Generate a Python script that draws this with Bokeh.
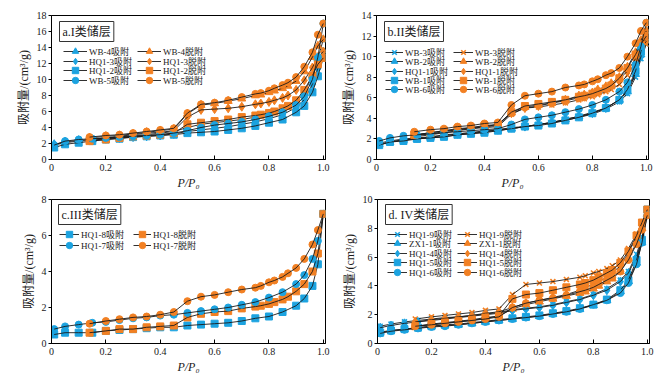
from bokeh.plotting import figure
from bokeh.models import Legend, LegendItem, Label, FixedTicker, Range1d
from bokeh.layouts import column, row
from bokeh.embed import file_html
from bokeh.resources import INLINE

SERIF = "Liberation Serif, Noto Sans CJK SC"
BLUE = "#1ca3e0"
ORANGE = "#f28023"

ADS_X = [0.01, 0.05, 0.10, 0.15, 0.20, 0.25, 0.30, 0.35, 0.40, 0.45, 0.50, 0.55,
         0.60, 0.65, 0.70, 0.75, 0.80, 0.85, 0.90, 0.93, 0.96, 0.98, 1.00]
DES_X = [1.00, 0.98, 0.96, 0.93, 0.90, 0.87, 0.85, 0.82, 0.80, 0.77, 0.75, 0.70,
         0.65, 0.60, 0.55, 0.50, 0.45, 0.40, 0.35, 0.30, 0.25, 0.20, 0.14]

X_TICKS = [0, 0.2, 0.4, 0.6, 0.8, 1.0]
X_TICK_LABELS = ["0", "0.2", "0.4", "0.6", "0.8", "1.0"]

# ---- panel a ----
A_TITLE = "a.I类储层"
A_NAMES = ["WB-4", "HQ1-3", "HQ1-2", "WB-5"]
A_MARKERS = ["triangle", "diamond", "square", "circle"]
A_ADS = [
    [1.9, 2.2, 2.4, 2.5, 2.7, 2.8, 3.0, 3.1, 3.3, 3.5, 4.0, 4.4, 4.6, 4.8, 5.0, 5.3, 5.7, 6.2, 7.2, 8.3, 10.5, 12.6, 15.0],
    [1.8, 2.1, 2.3, 2.4, 2.6, 2.7, 2.8, 2.9, 3.0, 3.2, 3.5, 3.7, 3.9, 4.1, 4.4, 4.7, 5.1, 5.6, 6.5, 7.5, 9.4, 11.4, 13.5],
    [1.5, 1.9, 2.1, 2.3, 2.5, 2.6, 2.8, 2.9, 3.0, 3.1, 3.3, 3.4, 3.5, 3.7, 3.9, 4.2, 4.6, 5.0, 5.9, 6.7, 8.4, 10.4, 12.7],
    [1.8, 2.3, 2.5, 2.6, 2.7, 2.8, 2.9, 3.0, 3.1, 3.3, 3.6, 4.0, 4.3, 4.5, 4.7, 5.0, 5.4, 5.9, 6.8, 7.9, 10.0, 12.8, 17.0],
]
A_DES = [
    [15.0, 14.2, 12.8, 11.0, 9.8, 9.2, 8.9, 8.6, 8.4, 8.1, 8.0, 7.6, 7.3, 7.0, 6.8, 5.7, 3.8, 3.6, 3.4, 3.2, 3.0, 2.9, 2.7],
    [13.5, 12.8, 11.5, 9.9, 8.7, 8.0, 7.7, 7.4, 7.2, 7.0, 6.9, 6.6, 6.4, 6.3, 6.2, 5.3, 3.6, 3.4, 3.3, 3.1, 2.9, 2.7, 2.5],
    [12.7, 11.9, 10.5, 8.7, 7.4, 6.7, 6.4, 6.0, 5.8, 5.6, 5.5, 5.3, 5.0, 4.8, 4.6, 4.4, 3.3, 3.1, 3.0, 2.9, 2.7, 2.5, 2.3],
    [17.0, 15.6, 13.4, 11.6, 10.3, 9.6, 9.3, 8.9, 8.6, 8.3, 8.2, 7.8, 7.4, 7.1, 6.9, 5.8, 3.9, 3.7, 3.5, 3.3, 3.1, 3.0, 2.8],
]
A_YMAX = 18
A_YTICKS = [0, 2, 4, 6, 8, 10, 12, 14, 16, 18]

# ---- panel b ----
B_TITLE = "b.II类储层"
B_NAMES = ["WB-3", "WB-2", "HQ1-1", "WB-1", "WB-6"]
B_MARKERS = ["x", "triangle", "diamond", "square", "circle"]
B_ADS = [
    [1.4, 1.7, 1.9, 2.0, 2.1, 2.2, 2.4, 2.5, 2.7, 2.8, 3.0, 3.2, 3.4, 3.6, 3.8, 4.1, 4.4, 4.9, 5.6, 6.4, 8.0, 9.8, 11.2],
    [1.5, 1.7, 1.9, 2.0, 2.2, 2.3, 2.5, 2.6, 2.7, 2.9, 3.0, 3.2, 3.4, 3.6, 3.9, 4.2, 4.6, 5.0, 5.8, 6.6, 8.3, 10.2, 12.5],
    [1.6, 1.8, 2.0, 2.1, 2.2, 2.4, 2.5, 2.6, 2.8, 2.9, 3.1, 3.2, 3.4, 3.6, 3.9, 4.2, 4.5, 5.0, 5.8, 6.6, 8.4, 10.0, 11.5],
    [1.4, 1.7, 1.8, 2.0, 2.1, 2.2, 2.4, 2.5, 2.6, 2.8, 3.0, 3.2, 3.3, 3.5, 3.8, 4.1, 4.5, 5.0, 5.8, 6.8, 8.6, 10.5, 12.0],
    [1.8, 2.1, 2.3, 2.4, 2.5, 2.6, 2.7, 2.8, 2.9, 3.0, 3.4, 3.9, 4.1, 4.3, 4.6, 4.9, 5.3, 5.8, 6.6, 7.5, 9.2, 11.0, 13.3],
]
B_DES = [
    [11.2, 10.5, 9.5, 8.2, 7.3, 6.8, 6.6, 6.3, 6.1, 5.9, 5.8, 5.5, 5.3, 5.1, 5.0, 4.4, 3.2, 3.1, 3.0, 2.8, 2.6, 2.4, 2.2],
    [12.5, 11.6, 10.4, 9.0, 8.0, 7.4, 7.1, 6.8, 6.5, 6.3, 6.2, 5.8, 5.5, 5.3, 5.1, 4.6, 3.3, 3.2, 3.0, 2.9, 2.7, 2.5, 2.3],
    [11.5, 10.8, 9.8, 8.6, 7.8, 7.2, 6.9, 6.6, 6.4, 6.1, 6.0, 5.7, 5.5, 5.2, 5.0, 4.5, 3.4, 3.2, 3.1, 2.9, 2.8, 2.6, 2.4],
    [12.0, 11.2, 10.2, 8.9, 7.9, 7.2, 6.9, 6.6, 6.4, 6.2, 6.1, 5.8, 5.6, 5.4, 5.2, 4.6, 3.4, 3.3, 3.1, 3.0, 2.8, 2.6, 2.4],
    [13.3, 12.5, 11.3, 10.0, 8.9, 8.4, 8.2, 7.8, 7.6, 7.3, 7.2, 7.0, 6.6, 6.4, 6.2, 5.3, 3.6, 3.5, 3.3, 3.2, 3.0, 2.9, 2.7],
]
B_YMAX = 14
B_YTICKS = [0, 2, 4, 6, 8, 10, 12, 14]

# ---- panel c ----
C_TITLE = "c.III类储层"
C_NAMES = ["HQ1-8", "HQ1-7"]
C_MARKERS = ["square", "circle"]
C_ADS = [
    [0.5, 0.6, 0.6, 0.6, 0.7, 0.75, 0.8, 0.85, 0.9, 0.9, 1.0, 1.05, 1.1, 1.15, 1.25, 1.4, 1.5, 1.75, 2.1, 2.5, 3.2, 4.4, 7.2],
    [0.8, 0.95, 1.05, 1.15, 1.2, 1.3, 1.4, 1.45, 1.55, 1.6, 1.7, 1.8, 1.9, 2.0, 2.15, 2.3, 2.55, 2.85, 3.3, 3.8, 4.7, 5.7, 7.2],
]
C_DES = [
    [7.2, 5.0, 4.0, 3.3, 2.9, 2.6, 2.45, 2.3, 2.2, 2.1, 2.05, 1.95, 1.8, 1.75, 1.65, 1.45, 1.0, 0.95, 0.9, 0.8, 0.8, 0.7, 0.6],
    [7.2, 6.3, 5.5, 4.7, 4.2, 3.9, 3.7, 3.5, 3.4, 3.2, 3.1, 3.0, 2.85, 2.7, 2.6, 2.35, 1.75, 1.6, 1.5, 1.45, 1.35, 1.25, 1.1],
]
C_YMAX = 8
C_YTICKS = [0, 2, 4, 6, 8]

# ---- panel d ----
D_TITLE = "d. IV类储层"
D_NAMES = ["HQ1-9", "ZX1-1", "HQ1-4", "HQ1-5", "HQ1-6"]
D_MARKERS = ["x", "triangle", "diamond", "square", "circle"]
D_ADS = [
    [1.2, 1.35, 1.5, 1.6, 1.7, 1.8, 1.85, 1.95, 2.05, 2.15, 2.35, 2.45, 2.55, 2.7, 2.9, 3.1, 3.4, 3.8, 4.4, 5.0, 6.2, 7.4, 9.2],
    [0.8, 0.9, 1.0, 1.1, 1.2, 1.25, 1.3, 1.4, 1.5, 1.6, 1.7, 1.8, 1.9, 2.05, 2.2, 2.4, 2.65, 3.0, 3.6, 4.3, 5.6, 7.0, 9.0],
    [1.1, 1.25, 1.4, 1.5, 1.6, 1.7, 1.8, 1.9, 2.0, 2.1, 2.3, 2.4, 2.5, 2.65, 2.85, 3.05, 3.35, 3.7, 4.3, 4.9, 6.0, 7.2, 9.1],
    [0.75, 0.9, 1.0, 1.1, 1.2, 1.3, 1.35, 1.45, 1.55, 1.65, 1.75, 1.85, 1.95, 2.1, 2.25, 2.45, 2.7, 3.05, 3.7, 4.4, 5.8, 7.2, 9.3],
    [0.7, 0.85, 0.95, 1.05, 1.15, 1.2, 1.3, 1.4, 1.5, 1.6, 1.7, 1.8, 1.9, 2.05, 2.2, 2.4, 2.7, 3.0, 3.5, 4.2, 5.5, 7.0, 8.9],
]
D_DES = [
    [9.2, 8.4, 7.6, 6.6, 5.8, 5.4, 5.2, 5.0, 4.9, 4.7, 4.6, 4.45, 4.3, 4.2, 4.1, 3.4, 2.4, 2.3, 2.15, 2.05, 1.95, 1.85, 1.7],
    [9.0, 8.0, 7.0, 5.9, 5.0, 4.5, 4.3, 4.0, 3.8, 3.6, 3.5, 3.3, 3.1, 2.9, 2.7, 2.4, 1.9, 1.75, 1.6, 1.5, 1.4, 1.3, 1.2],
    [9.1, 8.2, 7.4, 6.3, 5.4, 4.9, 4.6, 4.3, 4.1, 3.9, 3.7, 3.4, 3.2, 3.0, 2.8, 2.5, 2.2, 2.1, 1.95, 1.85, 1.75, 1.65, 1.5],
    [9.3, 8.4, 7.5, 6.4, 5.6, 5.1, 4.9, 4.6, 4.4, 4.2, 4.1, 3.9, 3.7, 3.5, 3.4, 3.1, 1.9, 1.8, 1.65, 1.55, 1.45, 1.35, 1.2],
    [8.9, 7.9, 6.9, 5.8, 5.0, 4.6, 4.4, 4.1, 3.9, 3.7, 3.6, 3.35, 3.15, 3.0, 2.8, 2.5, 1.85, 1.7, 1.6, 1.5, 1.4, 1.3, 1.2],
]
D_YMAX = 10
D_YTICKS = [0, 2, 4, 6, 8, 10]

FRAME_H = 144
ROW_BOX = 16


def make_panel(title, names, markers, ads, des, ymax, yticks, size,
               borders, leg_x, leg_glyph_w, row_centers, title_pos):
    bl, br, bt, bb = borders
    w, h = size
    p = figure(width=w, height=h, output_backend="svg", toolbar_location=None,
               x_range=Range1d(0, 1.008), y_range=Range1d(0, ymax),
               min_border_left=bl, min_border_right=br,
               min_border_top=bt, min_border_bottom=bb)
    p.xgrid.visible = False
    p.ygrid.visible = False
    p.outline_line_color = "black"
    p.outline_line_alpha = 1
    p.outline_line_width = 1

    p.xaxis.ticker = FixedTicker(ticks=X_TICKS)
    p.xaxis.major_label_overrides = {t: l for t, l in zip(X_TICKS, X_TICK_LABELS)}
    p.yaxis.ticker = FixedTicker(ticks=yticks)
    for ax in (p.xaxis, p.yaxis):
        ax.axis_line_color = "black"
        ax.major_tick_line_color = "black"
        ax.minor_tick_line_color = None
        ax.major_label_text_font = SERIF
        ax.major_label_text_font_size = "10px"
        ax.major_label_text_color = "#1a1a1a"
        ax.axis_label_text_font = SERIF
        ax.axis_label_text_font_style = "normal"
        ax.axis_label_text_color = "#1a1a1a"
    p.xaxis.major_tick_in = 4
    p.xaxis.major_tick_out = 0
    p.xaxis.major_label_standoff = 4
    p.yaxis.major_tick_in = 0
    p.yaxis.major_tick_out = 3
    p.yaxis.major_label_standoff = 2
    p.xaxis.axis_label = "P/P₀"
    p.xaxis.axis_label_text_font_style = "italic"
    p.xaxis.axis_label_text_font_size = "12px"
    p.xaxis.axis_label_standoff = 2
    p.yaxis.axis_label = "吸附量/(cm³/g)"
    p.yaxis.axis_label_text_font_size = "12px"
    p.yaxis.axis_label_standoff = 3

    for i, (name, m, ya, yd) in enumerate(zip(names, markers, ads, des)):
        for k, (xs, ys, col, suffix) in enumerate(((ADS_X, ya, BLUE, "吸附"),
                                                   (DES_X, yd, ORANGE, "脱附"))):
            msize = 8 if m == "triangle" else (9 if m == "diamond" else 7)
            sc = p.scatter(xs, ys, marker=m, size=msize, fill_color=col,
                           line_color=col, line_width=1.6 if m == "x" else 1)
            ln = p.line(xs, ys, line_color="#1a1a1a", line_width=0.9)
            item = LegendItem(label=name + suffix, renderers=[ln, sc])
            ly = FRAME_H - row_centers[i] - ROW_BOX / 2
            lg = Legend(items=[item], location=(leg_x[k], ly),
                        border_line_color=None, background_fill_alpha=0,
                        padding=0, margin=0, spacing=0,
                        glyph_width=leg_glyph_w[k], glyph_height=ROW_BOX,
                        label_height=ROW_BOX, label_standoff=2,
                        label_text_font=SERIF, label_text_font_size="9px",
                        label_text_color="#1a1a1a")
            p.add_layout(lg)

    tx, ty = title_pos
    p.add_layout(Label(x=tx, y=ty, x_units="screen", y_units="screen", text=title,
                       text_font=SERIF, text_font_size="12px", text_color="#1a1a1a",
                       text_baseline="middle", text_align="left",
                       border_line_color="#333333", border_line_width=1,
                       background_fill_color="white", padding=3))
    return p


pa = make_panel(A_TITLE, A_NAMES, A_MARKERS, A_ADS, A_DES, A_YMAX, A_YTICKS, (335, 192),
                (51, 10, 15, 33), (12, 86), (24, 24), [36, 46, 55, 65], (8, 128))
pb = make_panel(B_TITLE, B_NAMES, B_MARKERS, B_ADS, B_DES, B_YMAX, B_YTICKS, (335, 192),
                (41, 22, 15, 33), (9, 77), (18, 20), [37, 46, 56, 65, 74], (8, 128))
pc = make_panel(C_TITLE, C_NAMES, C_MARKERS, C_ADS, C_DES, C_YMAX, C_YTICKS, (335, 192),
                (51, 10, 7, 41), (8, 82), (20, 18), [35, 46], (7, 129))
pd_ = make_panel(D_TITLE, D_NAMES, D_MARKERS, D_ADS, D_DES, D_YMAX, D_YTICKS, (335, 192),
                 (42, 21, 7, 41), (10, 80), (20, 20), [35, 44, 54, 63, 73], (8, 129))

layout = column(row(pa, pb), row(pc, pd_))
open("out.html", "w").write(file_html(layout, INLINE))
